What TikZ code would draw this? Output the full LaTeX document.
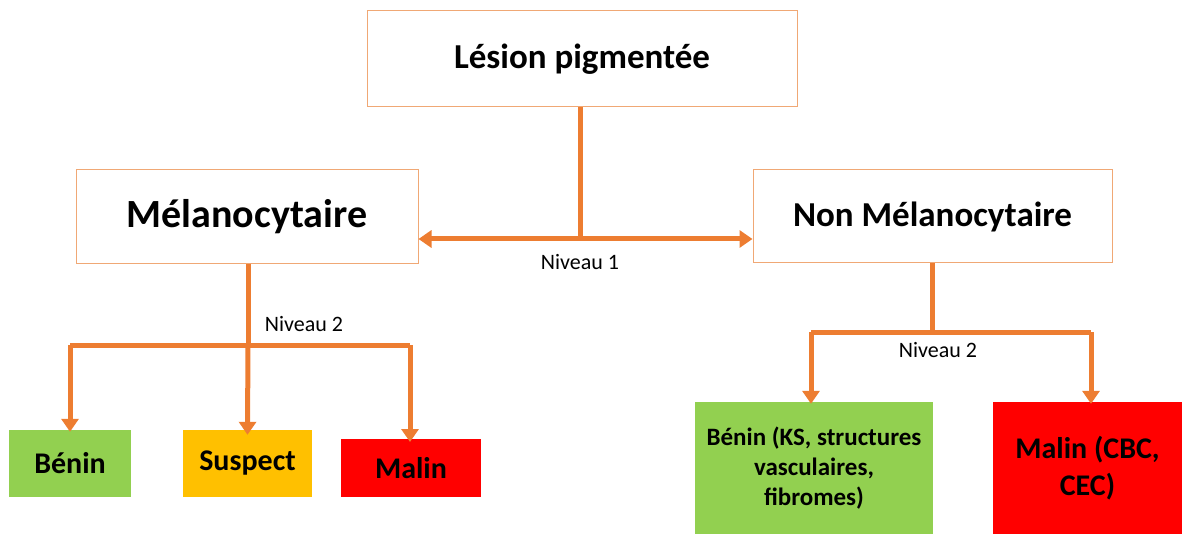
\documentclass[tikz,border=0pt]{standalone}
\usepackage{fontspec}
\setmainfont{Carlito}
\usetikzlibrary{arrows.meta}
\definecolor{conn}{HTML}{ED7D31}
\definecolor{edge}{HTML}{F0A875}
\definecolor{vert}{HTML}{92D050}
\definecolor{jaune}{HTML}{FFC000}
\definecolor{rouge}{HTML}{FF0000}
\tikzset{
  x=1pt, y=-1pt,
  whitebox/.style={draw=edge, line width=1pt, fill=white, inner sep=0pt, align=center, font=\bfseries},
  colbox/.style={inner sep=0pt, align=center, font=\bfseries},
  link/.style={draw=conn, line width=5pt},
  arr/.style={link, -{Triangle[width=17pt,length=13pt]}},
  lbl/.style={font=\fontsize{22}{26}\selectfont, inner sep=0pt, anchor=base}
}
\begin{document}
\begin{tikzpicture}
\useasboundingbox (0,0) rectangle (1182,534);
\node[whitebox, minimum width=430pt, minimum height=96pt, font=\bfseries\fontsize{35}{40}\selectfont] (top) at (582,59) {Lésion pigmentée};
\node[whitebox, minimum width=342pt, minimum height=94pt, font=\bfseries\fontsize{40}{46}\selectfont] (mel) at (247,217) {Mélanocytaire};
\node[whitebox, minimum width=359pt, minimum height=93pt, font=\bfseries\fontsize{35}{40}\selectfont] (non) at (932.5,216.5) {Non Mélanocytaire};
\node[colbox, fill=vert, minimum width=122pt, minimum height=67pt, font=\bfseries\fontsize{30}{34}\selectfont] (benin) at (70,463.5) {Bénin};
\node[colbox, fill=jaune, minimum width=129pt, minimum height=67pt, font=\bfseries\fontsize{30}{34}\selectfont] (suspect) at (247.5,463.5) {Suspect};
\node[colbox, fill=rouge, minimum width=140pt, minimum height=58pt, font=\bfseries\fontsize{30}{34}\selectfont] (malin) at (411,468) {Malin};
\node[colbox, fill=vert, minimum width=238pt, minimum height=132pt, font=\bfseries\fontsize{25}{30}\selectfont] (beninR) at (814,468) {Bénin (KS, structures\\vasculaires,\\fibromes)};
\node[colbox, fill=rouge, minimum width=189pt, minimum height=132pt, font=\bfseries\fontsize{30}{37}\selectfont] (malinR) at (1087.5,468) {Malin (CBC,\\CEC)};
% level 1
\coordinate (h1) at (580,239);
\draw[link] (top.south -| h1) -- (h1);
\draw[link, {Triangle[width=17pt,length=13pt]}-{Triangle[width=17pt,length=13pt]}] (mel.east |- h1) -- (non.west |- h1);
\node[lbl] (n1) at (580,270) {Niveau 1};
% level 2 left
\coordinate (j2) at (248,345);
\draw[link] (mel.south -| j2) -- (j2);
\draw[link] (70,345) -- (410,345);
\draw[arr] (j2 -| benin.north) -- ([yshift=-2pt]benin.north);
\draw[arr, shorten >=-5pt] (j2) -- (suspect.north);
\draw[arr] (j2 -| 410,0) -- ([yshift=-3pt]410,439);
\node[lbl] (n2) at (304,331) {Niveau 2};
% level 2 right
\coordinate (j3) at (932,332);
\draw[link] (non.south -| j3) -- (j3);
\draw[link] (811,332) -- (1091,332);
\draw[arr] (811,332) -- ([yshift=-2pt]beninR.north -| 811,0);
\draw[arr] (1091,332) -- ([yshift=-2pt]malinR.north -| 1091,0);
\node[lbl] (n3) at (938,357) {Niveau 2};
\end{tikzpicture}
\end{document}
